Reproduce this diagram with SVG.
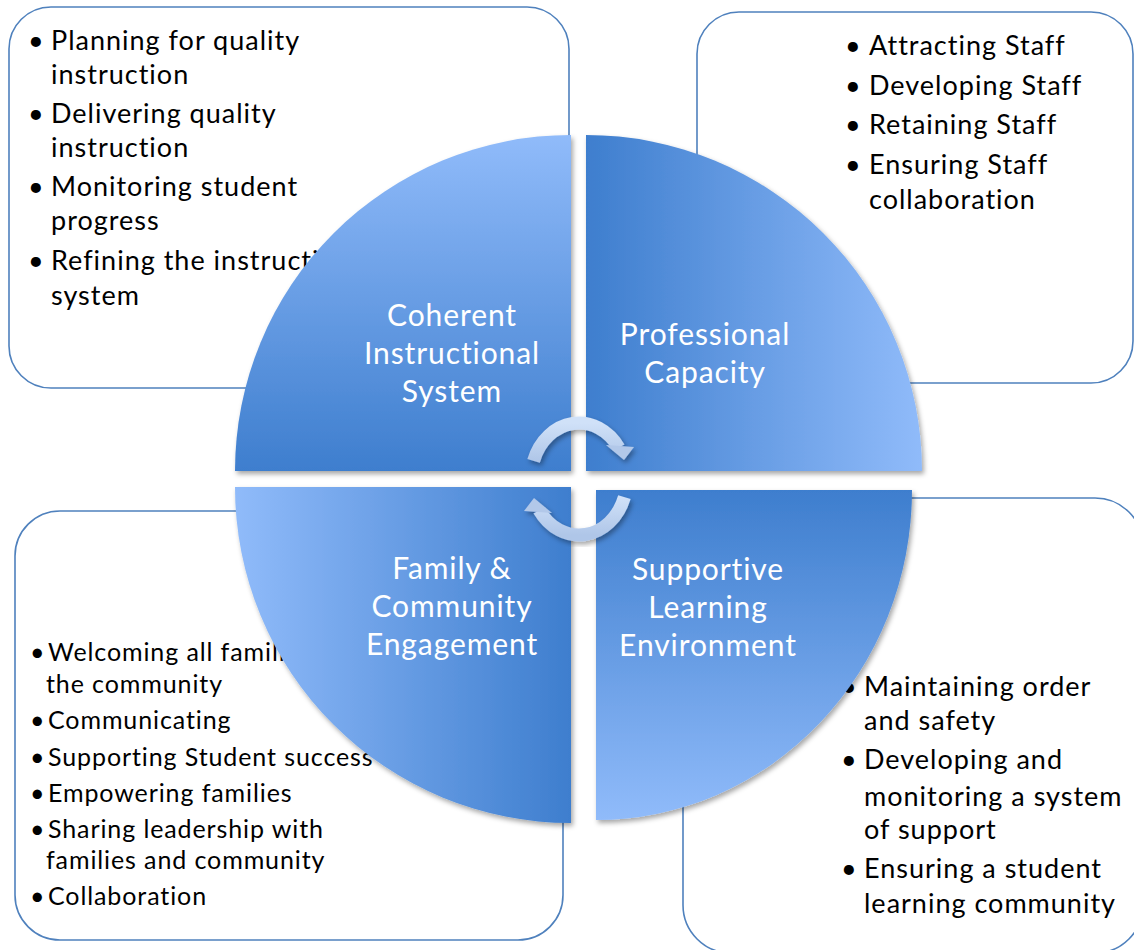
<svg xmlns="http://www.w3.org/2000/svg" width="1134" height="950" viewBox="0 0 1134 950">
<style>
.box{fill:#fff;stroke:#4F81BD;stroke-width:1.6}
.t{font-family:Lato,"Open Sans","Liberation Sans",sans-serif;fill:#000;font-size:27px;letter-spacing:1px}
.ts{font-family:Lato,"Open Sans","Liberation Sans",sans-serif;fill:#000;font-size:25px;letter-spacing:0.9px}
.q{font-family:Lato,"Open Sans","Liberation Sans",sans-serif;fill:#fff;font-size:30px;text-anchor:middle;letter-spacing:0.9px}
.arr{fill:none;stroke:url(#ga);stroke-width:13}
</style>
<defs>
<linearGradient id="gv1" x1="0" y1="0" x2="0" y2="1"><stop offset="0" stop-color="#90BBFA"/><stop offset="1" stop-color="#3E7ECE"/></linearGradient>
<linearGradient id="gh1" x1="0" y1="0" x2="1" y2="0"><stop offset="0" stop-color="#3E7ECE"/><stop offset="1" stop-color="#90BBFA"/></linearGradient>
<linearGradient id="gh2" x1="0" y1="0" x2="1" y2="0"><stop offset="0" stop-color="#90BBFA"/><stop offset="1" stop-color="#3E7ECE"/></linearGradient>
<linearGradient id="gv2" x1="0" y1="0" x2="0" y2="1"><stop offset="0" stop-color="#3E7ECE"/><stop offset="1" stop-color="#90BBFA"/></linearGradient>
<linearGradient id="ga" x1="0" y1="0" x2="0" y2="1"><stop offset="0" stop-color="#D0E1F8"/><stop offset="1" stop-color="#AFC6E8"/></linearGradient>
<filter id="sh" x="-10%" y="-10%" width="120%" height="120%"><feDropShadow dx="2" dy="3" stdDeviation="2.5" flood-color="#000" flood-opacity="0.35"/></filter>
</defs>

<g id="box-instructional">
<rect class="box" x="9" y="7" width="560" height="381" rx="42"/>
<text class="t"><tspan x="28" y="50">•</tspan><tspan x="51" y="50">Planning for quality</tspan><tspan x="51" y="84">instruction</tspan><tspan x="28" y="123">•</tspan><tspan x="51" y="123">Delivering quality</tspan><tspan x="51" y="157">instruction</tspan><tspan x="28" y="196">•</tspan><tspan x="51" y="196">Monitoring student</tspan><tspan x="51" y="230">progress</tspan><tspan x="28" y="270">•</tspan><tspan x="51" y="270">Refining the instructional</tspan><tspan x="51" y="305">system</tspan></text>
</g>

<g id="box-capacity">
<rect class="box" x="697" y="12" width="436" height="371" rx="42"/>
<text class="t"><tspan x="845" y="55">•</tspan><tspan x="869" y="55">Attracting Staff</tspan><tspan x="845" y="95">•</tspan><tspan x="869" y="95">Developing Staff</tspan><tspan x="845" y="134">•</tspan><tspan x="869" y="134">Retaining Staff</tspan><tspan x="845" y="174">•</tspan><tspan x="869" y="174">Ensuring Staff</tspan><tspan x="869" y="209">collaboration</tspan></text>
</g>

<g id="box-family">
<rect class="box" x="15" y="511" width="548" height="429" rx="45"/>
<text class="ts"><tspan x="30" y="661">•</tspan><tspan x="48" y="661">Welcoming all families to</tspan><tspan x="46" y="693">the community</tspan><tspan x="30" y="729">•</tspan><tspan x="48" y="729">Communicating</tspan><tspan x="30" y="766">•</tspan><tspan x="48" y="766">Supporting Student success</tspan><tspan x="30" y="802">•</tspan><tspan x="48" y="802">Empowering families</tspan><tspan x="30" y="838">•</tspan><tspan x="48" y="838">Sharing leadership with</tspan><tspan x="46" y="869">families and community</tspan><tspan x="30" y="905">•</tspan><tspan x="48" y="905">Collaboration</tspan></text>
</g>

<g id="box-supportive">
<rect class="box" x="683" y="498" width="460" height="455" rx="48"/>
<text class="t"><tspan x="841" y="696">•</tspan><tspan x="864" y="696">Maintaining order</tspan><tspan x="864" y="730">and safety</tspan><tspan x="841" y="769">•</tspan><tspan x="864" y="769">Developing and</tspan><tspan x="864" y="806">monitoring a system</tspan><tspan x="864" y="839">of support</tspan><tspan x="841" y="878">•</tspan><tspan x="864" y="878">Ensuring a student</tspan><tspan x="864" y="913">learning community</tspan></text>
</g>

<g id="q-coherent">
<path d="M571 471 L235 471 A336 336 0 0 1 571 135 Z" fill="url(#gv1)" filter="url(#sh)"/>
<text class="q"><tspan x="452" y="326">Coherent</tspan><tspan x="452" y="364">Instructional</tspan><tspan x="452" y="402">System</tspan></text>
</g>

<g id="q-professional">
<path d="M586 471 L586 135 A336 336 0 0 1 922 471 Z" fill="url(#gh1)" filter="url(#sh)"/>
<text class="q"><tspan x="705" y="345">Professional</tspan><tspan x="705" y="383">Capacity</tspan></text>
</g>

<g id="q-family">
<path d="M571 487 L571 823 A336 336 0 0 1 235 487 Z" fill="url(#gh2)" filter="url(#sh)"/>
<text class="q"><tspan x="452" y="579">Family &amp;</tspan><tspan x="452" y="617">Community</tspan><tspan x="452" y="655">Engagement</tspan></text>
</g>

<g id="q-supportive">
<path d="M596 490 L912 490 A316 330 0 0 1 596 820 Z" fill="url(#gv2)" filter="url(#sh)"/>
<text class="q"><tspan x="708" y="580">Supportive</tspan><tspan x="708" y="618">Learning</tspan><tspan x="708" y="656">Environment</tspan></text>
</g>

<g id="connectors" filter="url(#sh)">
<path class="arr" d="M533.6 460.8 A48 56 0 0 1 618.8 447.7"/>
<polygon points="606,445 634,447 624,460" fill="#B2C8E9"/>
<path class="arr" d="M624.4 497.2 A48 56 0 0 1 539.2 510.3"/>
<polygon points="552,513 524,511 534,498" fill="#B2C8E9"/>
</g>
</svg>
